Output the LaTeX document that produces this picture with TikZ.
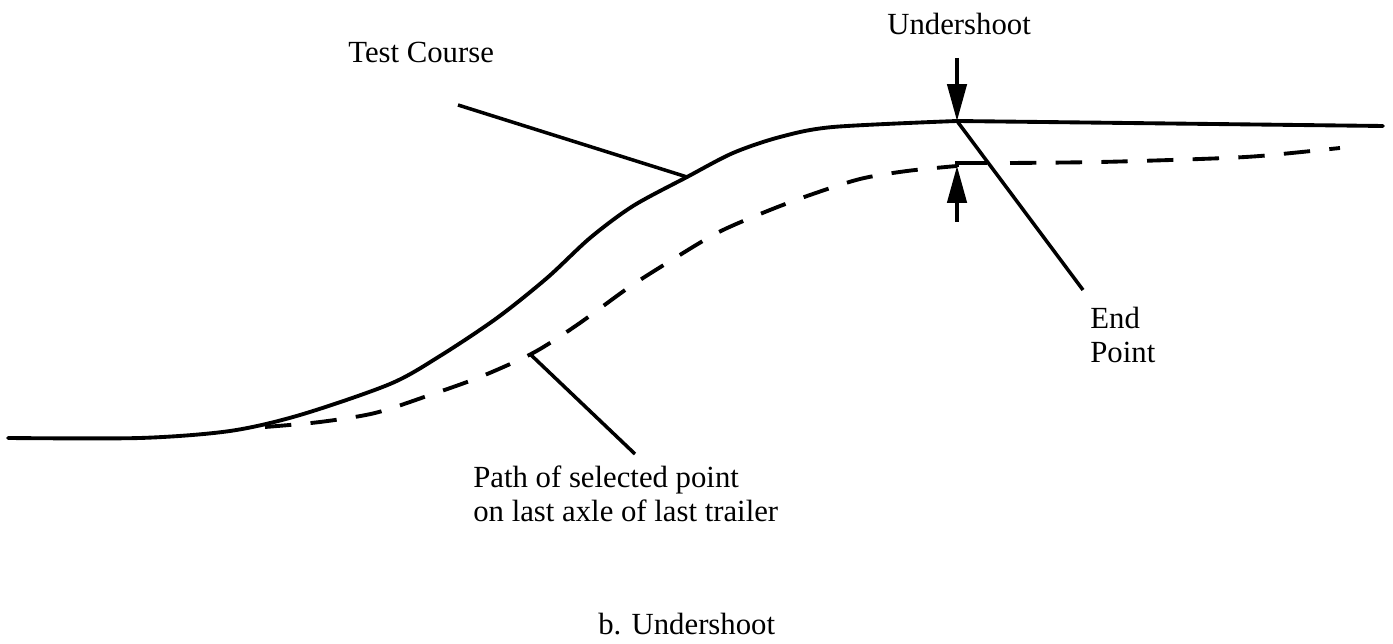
\documentclass[tikz,border=0pt]{standalone}
\usepackage{fontspec}
\setmainfont{Liberation Serif}
\usetikzlibrary{arrows.meta, positioning}

\begin{document}
\begin{tikzpicture}[x=0.02cm, y=-0.02cm, >={Triangle[length=21pt, width=11pt]},
    course/.style={line width=2.2pt, line join=round, line cap=round},
    trailpath/.style={line width=2.2pt, dash pattern=on 15pt off 11pt},
    leader/.style={line width=2pt},
    marker/.style={line width=2pt, ->},
    lbl/.style={font=\fontsize{17.5}{19.5}\selectfont, inner sep=0pt, anchor=base west, align=left}]
    \useasboundingbox (0,0) rectangle (1393,644);

    % --- Test course (solid) ---
    \draw[course] plot[smooth, tension=0.5] coordinates {
        (8,438) (140,438) (230,431) (300,415) (390,384)
        (440,356) (497,318) (547,278) (590,238) (633,206) (687,177)
        (733,153) (780,137) (833,127) (957,121)}
        -- (1383,126);

    % --- Path of the last axle (dashed) ---
    \draw[trailpath] plot[smooth, tension=0.5] coordinates {
        (265,427) (320,422) (375,413) (430,395) (480,377) (533,353)
        (577,325) (628,288) (667,263) (717,233) (765,212) (810,195)
        (860,179) (907,171) (957,166)};
    \draw[line width=2.2pt] (957,167) -- (957,163) -- (987,163);
    \draw[trailpath] plot[smooth, tension=0.5] coordinates {
        (1010,163) (1100,162) (1200,159) (1260,156) (1340,148)};

    % --- Points ---
    \coordinate (peak) at (957,121);
    \coordinate (lowpeak) at (957,166);
    \coordinate (topTail) at (957,58);
    \coordinate (botTail) at (957,222);
    \coordinate (courseHit) at (687,177);
    \coordinate (courseFree) at (458,105);
    \coordinate (trailHit) at (530,354);
    \coordinate (trailFree) at (635,454);
    \coordinate (endFree) at (1083,290);

    % --- Undershoot markers ---
    \draw[marker] (topTail) -- (peak);
    \draw[marker] (botTail) -- (lowpeak);

    % --- Leaders ---
    \draw[leader] (courseFree) -- (courseHit);
    \draw[leader] (peak) -- (endFree);
    \draw[leader] (trailHit) -- (trailFree);

    % --- Labels (base = last line) ---
    \node[lbl] (courseLbl) at (348,63) {Test Course};
    \node[lbl] (underLbl) at (887,35) {Undershoot};
    \node[lbl] (endLbl) at (1090,363) {End\\Point};
    \node[lbl] (trailLbl) at (473,522) {Path of selected point\\on last axle of last trailer};
    \node[lbl] (caption) at (598,635) {b. Undershoot};
\end{tikzpicture}
\end{document}
